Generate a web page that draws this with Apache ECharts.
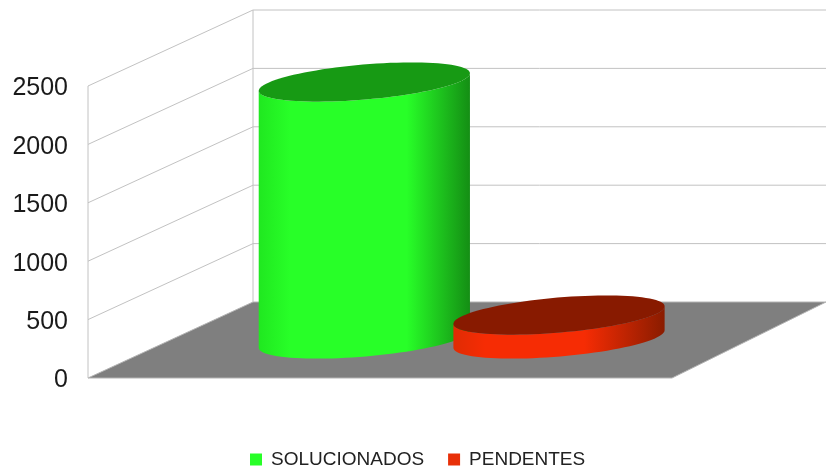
<!DOCTYPE html>
<html><head><meta charset="utf-8">
<style>html,body{margin:0;padding:0;background:#fff}#c{width:826px;height:469px}</style>
<script src="https://cdn.jsdelivr.net/npm/echarts@6/dist/echarts.min.js"></script>
</head><body><div id="c"></div>
<script>
const categories = ['SOLUCIONADOS', 'PENDENTES'];
const solucionados = [2200];
const pendentes = [205];
const yTicks = [0, 500, 1000, 1500, 2000, 2500];

const DEPTH = [165, -76];       // wall offset from the front plane
const MID = [179, -39];         // cylinder base offset from the front plane
const A = 106, B = 17.5, TILT = -0.085; // cylinder ellipse radii and tilt

function ell(cx, cy, t) {
  const c = Math.cos(t), s = Math.sin(t), ct = Math.cos(TILT), st = Math.sin(TILT);
  return [cx + A * c * ct - B * s * st, cy + A * c * st + B * s * ct];
}
function arc(cx, cy, t0, t1, n) {
  const out = [];
  for (let i = 0; i <= n; i++) out.push(ell(cx, cy, t0 + (t1 - t0) * i / n));
  return out;
}
function cylinder(colors, top, from, to) {
  return function (params, api) {
    const base = api.coord([api.value(0), 0]);
    const head = api.coord([api.value(0), api.value(1)]);
    const cx = base[0] + MID[0], by = base[1] + MID[1], ty = head[1] + MID[1];
    const side = arc(cx, by, 0, Math.PI, 48).concat(arc(cx, ty, Math.PI, 0, 48));
    return { type: 'group', children: [
      { type: 'polygon', shape: { points: side }, style: { fill: {
          type: 'linear', x: 0, y: 0, x2: 1, y2: 0,
          colorStops: [
            { offset: 0, color: colors[0] }, { offset: 0.15, color: colors[1] },
            { offset: from, color: colors[1] }, { offset: to, color: colors[2] },
            { offset: 1, color: colors[2] }] } } },
      { type: 'polygon', shape: { points: arc(cx, ty, 0, Math.PI * 2, 96) }, style: { fill: top } }
    ] };
  };
}
function frame(params, api) {
  const v = api.value(0);
  const a = api.coord([0, v]);
  const size = params.coordSys;
  const left = size.x, right = size.x + size.width;
  const lineStyle = { stroke: '#c2c2c2', lineWidth: 1, fill: null };
  const kids = [];
  if (v === 0) {
    kids.push({ type: 'polygon', shape: { points: [
      [left, a[1]], [left + DEPTH[0], a[1] + DEPTH[1]],
      [right + DEPTH[0] - 11, a[1] + DEPTH[1]], [right, a[1]]] },
      style: { fill: '#7f7f7f', stroke: '#b4b4b4', lineWidth: 1 } });
    const top = api.coord([0, yTicks[yTicks.length - 1]]);
    kids.push({ type: 'line', shape: { x1: left, y1: a[1], x2: left, y2: top[1] }, style: lineStyle });
    kids.push({ type: 'line', shape: { x1: left + DEPTH[0], y1: a[1] + DEPTH[1], x2: left + DEPTH[0], y2: top[1] + DEPTH[1] }, style: lineStyle });
  } else {
    kids.push({ type: 'polyline', shape: { points: [
      [left, a[1]], [left + DEPTH[0], a[1] + DEPTH[1]], [826, a[1] + DEPTH[1]]] }, style: lineStyle });
  }
  return { type: 'group', children: kids };
}

const chart = echarts.init(document.getElementById('c'), null, { renderer: 'canvas' });
chart.setOption({
  animation: false,
  backgroundColor: '#fff',
  textStyle: { fontFamily: 'Liberation Sans' },
  grid: { left: 88, right: 154, top: 86, bottom: 91 },
  xAxis: { type: 'category', data: categories, max: 2, show: false },
  yAxis: {
    type: 'value', min: 0, max: 2500, interval: 500,
    axisLine: { show: false }, axisTick: { show: false }, splitLine: { show: false },
    axisLabel: { margin: 20, formatter: v => '{a|' + v + '}',
      rich: { a: { color: '#1a1a1a', fontSize: 25, fontFamily: 'Liberation Sans', padding: [5, 0, 0, 0] } } }
  },
  legend: {
    top: 450, left: 250, itemWidth: 12, itemHeight: 12, itemGap: 24,
    icon: 'rect', padding: 0,
    textStyle: { color: '#222', fontSize: 19, fontFamily: 'Liberation Sans', padding: [0, 0, 0, 4] },
    data: categories
  },
  series: [
    { type: 'custom', name: 'frame', silent: true, z: 1, clip: false, renderItem: frame,
      encode: { y: 0 }, data: yTicks.map(v => [v]) },
    { type: 'custom', name: categories[0], z: 3, clip: false, itemStyle: { color: '#28ff28' },
      renderItem: cylinder(['#20e820', '#28ff28', '#148e14'], '#179a14', 0.7, 1),
      encode: { x: 0, y: 1 }, data: solucionados.map(v => [0, v]) },
    { type: 'custom', name: categories[1], z: 4, clip: false, itemStyle: { color: '#e83008' },
      renderItem: cylinder(['#e02c04', '#f62c04', '#8a1c00'], '#881a00', 0.62, 1),
      encode: { x: 0, y: 1 }, data: pendentes.map(v => [1, v]) }
  ]
});
</script></body></html>
